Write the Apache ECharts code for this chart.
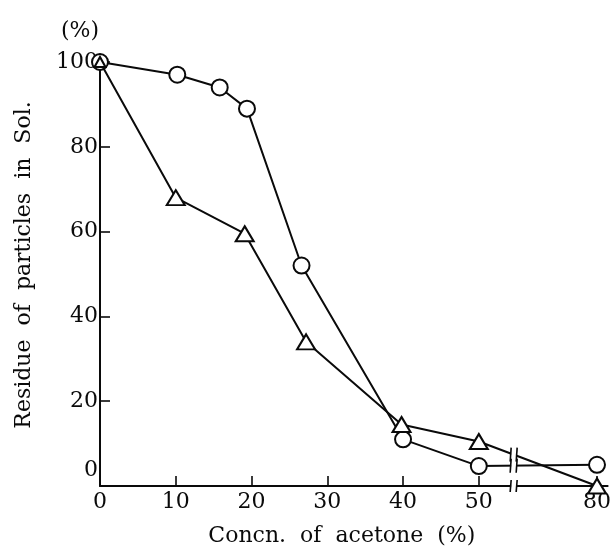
<!DOCTYPE html>
<html>
<head>
<meta charset="utf-8">
<script src="https://cdn.jsdelivr.net/npm/echarts@6/dist/echarts.min.js"></script>
<style>html,body{margin:0;padding:0;background:#fff;}#c{width:614px;height:552px;}</style>
</head>
<body>
<div id="c"></div>
<script>
// Data
const circleX = [0, 10.2, 15.8, 19.4, 26.6, 40, 50, 80];
const circleY = [100, 97, 94, 89, 52, 11, 4.7, 5];
const triX = [0, 10, 19.1, 27.2, 39.8, 50, 80];
const triY = [100, 68, 59.5, 34, 14.5, 10.5, 0];
const xTickLabels = [0, 10, 20, 30, 40, 50, 80];
const yTickLabels = [0, 20, 40, 60, 80, 100];

// Broken x axis: values >= 80 are drawn just after the break
const POS80 = 65.6;      // axis position used for 80
const BREAK_POS = 54.6;  // where the break marks sit
function toAxis(v) { return v >= 80 ? POS80 + (v - 80) : v; }

const FONT = 'DejaVu Serif';
const INK = '#0a0a0a';
const chart = echarts.init(document.getElementById('c'));

function pairs(xs, ys) { return xs.map((x, i) => [toAxis(x), ys[i]]); }

const option = {
  animation: false,
  backgroundColor: '#fff',
  title: {
    text: '(%)', left: 56, top: 15,
    textStyle: { fontFamily: FONT, fontSize: 22, fontWeight: 'normal', color: INK }
  },
  grid: { left: 100, right: 2, top: 62, bottom: 66, containLabel: false },
  xAxis: {
    type: 'value', min: 0, max: 67,
    name: 'Concn.  of  acetone  (%)', nameLocation: 'middle', nameGap: 39,
    nameTextStyle: { fontFamily: FONT, fontSize: 22, color: INK, padding: [0, 24, 0, 0] },
    axisLine: { show: true, lineStyle: { color: INK, width: 2 } },
    axisTick: { show: true, inside: true, length: 10, lineStyle: { color: INK, width: 1.6 },
      customValues: xTickLabels.slice(1).map(toAxis) },
    axisLabel: {
      customValues: xTickLabels.map(toAxis), margin: 5,
      fontFamily: FONT, fontSize: 22, color: INK,
      formatter: function (val) {
        for (const t of xTickLabels) { if (Math.abs(toAxis(t) - val) < 1e-6) return String(t); }
        return '';
      }
    },
    splitLine: { show: false }
  },
  yAxis: {
    type: 'value', min: 0, max: 100, interval: 20,
    name: 'Residue  of  particles  in  Sol.', nameLocation: 'middle', nameRotate: 90, nameGap: 65,
    nameTextStyle: { fontFamily: FONT, fontSize: 22, color: INK, padding: [0, 0, 0, 18] },
    axisLine: { show: true, lineStyle: { color: INK, width: 2 } },
    axisTick: { show: true, inside: true, length: 10, lineStyle: { color: INK, width: 1.6 } },
    axisLabel: {
      margin: 2, fontFamily: FONT, fontSize: 22, color: INK,
      formatter: function (v) { return v === 0 ? '{z|0}' : String(v); },
      rich: { z: { fontFamily: FONT, fontSize: 22, color: INK, padding: [0, 0, 32, 0] } }
    },
    splitLine: { show: false }
  },
  series: [
    {
      type: 'line', name: 'circle', data: pairs(circleX, circleY),
      symbol: 'circle', symbolSize: 16, showAllSymbol: true, clip: false,
      lineStyle: { color: INK, width: 2 },
      itemStyle: { color: '#fff', borderColor: INK, borderWidth: 2 },
      z: 3
    },
    {
      type: 'line', name: 'triangle', data: pairs(triX, triY),
      symbol: 'triangle', showAllSymbol: true, clip: false,
      symbolSize: function (v, p) { return p.dataIndex === 0 ? [11, 10] : [18, 15]; },
      lineStyle: { color: INK, width: 2 },
      itemStyle: { color: '#fff', borderColor: INK, borderWidth: 2 },
      z: 4
    },
    {
      type: 'custom', silent: true, clip: false, z: 10,
      data: [[BREAK_POS, 0]],
      renderItem: function (params, api) {
        const children = [];
        const base = api.coord([BREAK_POS, 0]);
        const bx = base[0];
        function lineY(xs, ys) {
          const n = xs.length;
          const a = api.coord([toAxis(xs[n - 2]), ys[n - 2]]);
          const b = api.coord([toAxis(xs[n - 1]), ys[n - 1]]);
          const t = (bx - a[0]) / (b[0] - a[0]);
          return a[1] + t * (b[1] - a[1]);
        }
        function addBreak(py, half) {
          children.push({ type: 'rect', shape: { x: bx - 2.5, y: py - 3, width: 5, height: 6 },
            style: { fill: '#fff' } });
          [-3, 3].forEach(function (dx) {
            children.push({ type: 'line',
              shape: { x1: bx + dx - 0.5, y1: py + half, x2: bx + dx + 0.5, y2: py - half },
              style: { stroke: INK, lineWidth: 1.6 } });
          });
        }
        addBreak(base[1], 6);
        addBreak(lineY(circleX, circleY), 7);
        addBreak(lineY(triX, triY), 7);
        return { type: 'group', children: children };
      }
    }
  ]
};
chart.setOption(option);
</script>
</body>
</html>
